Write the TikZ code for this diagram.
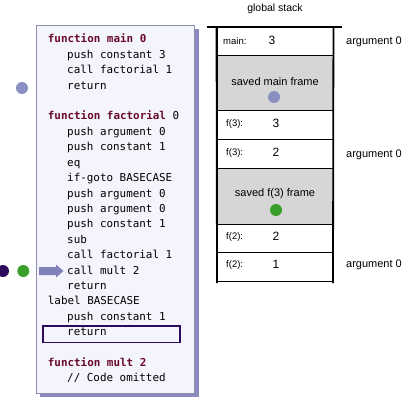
\documentclass[tikz,border=0pt]{standalone}
\usepackage{fontspec}
\setmainfont{Liberation Sans}
\newfontfamily\codefont{DejaVu Sans Mono}
\definecolor{kwred}{HTML}{6A0A2A}
\definecolor{boxfill}{HTML}{F4F4FC}
\definecolor{boxline}{HTML}{8E8EAE}
\definecolor{shadowc}{HTML}{8A8ABE}
\definecolor{arrowc}{HTML}{8080B8}
\definecolor{periw}{HTML}{8A8FC2}
\definecolor{darkpurple}{HTML}{2E0A5C}
\definecolor{greendot}{HTML}{3A9E2A}
\definecolor{rowgray}{HTML}{D6D6D6}
\tikzset{
  codeline/.style={anchor=west, inner sep=0pt, font=\codefont\fontsize{10.9}{12}\selectfont, text height=8pt, text depth=2pt},
  kwline/.style={codeline, text=kwred, font=\codefont\bfseries\fontsize{10.9}{12}\selectfont},
  stackrow/.style={draw=black, line width=0.9pt, minimum width=116pt, inner sep=0pt},
  smalllab/.style={anchor=west, inner sep=0pt, font=\fontsize{9.5}{11}\selectfont},
  numlab/.style={inner sep=0pt, font=\fontsize{12}{14}\selectfont},
  arglab/.style={anchor=west, inner sep=0pt, font=\fontsize{11}{13}\selectfont},
  framelab/.style={inner sep=0pt, font=\fontsize{11}{13}\selectfont},
  dotc/.style={circle, inner sep=0pt, minimum size=12pt}
}
\begin{document}
\begin{tikzpicture}[x=1pt,y=-1pt]
\useasboundingbox (0,0) rectangle (407,409);
% code box with shadow
\fill[shadowc] (40,29) rectangle (199,397);
\node[draw=boxline, fill=boxfill, line width=0.8pt, minimum width=158pt, minimum height=368pt, inner sep=0pt, anchor=north west] (codebox) at (36,25) {};
% code lines
\node[kwline] (l1) at (47.7,40) {function main 0};
\node[codeline] (l2) at (67,55.4) {push constant 3};
\node[codeline] (l3) at (67,70.8) {call factorial 1};
\node[codeline] (l4) at (67,86.2) {return};
\node[codeline] (l5) at (47.7,117) {\textcolor{kwred}{\bfseries function factorial} 0};
\node[codeline] (l6) at (67,132.4) {push argument 0};
\node[codeline] (l7) at (67,147.8) {push constant 1};
\node[codeline] (l8) at (67,163.2) {eq};
\node[codeline] (l9) at (67,178.6) {if-goto BASECASE};
\node[codeline] (l10) at (67,194) {push argument 0};
\node[codeline] (l11) at (67,209.4) {push argument 0};
\node[codeline] (l12) at (67,224.8) {push constant 1};
\node[codeline] (l13) at (67,240.2) {sub};
\node[codeline] (l14) at (67,255.6) {call factorial 1};
\node[codeline] (l15) at (67,271) {call mult 2};
\node[codeline] (l16) at (67,286.4) {return};
\node[codeline] (l17) at (47.7,301.8) {label BASECASE};
\node[codeline] (l18) at (67,317.2) {push constant 1};
\node[codeline] (l19) at (67,332.6) {return};
\node[kwline] (l20) at (47.7,363.4) {function mult 2};
\node[codeline] (l21) at (67,378.8) {// Code omitted};
% highlight box
\node[draw=darkpurple, line width=1.5pt, minimum width=137pt, minimum height=16.5pt, inner sep=0pt, anchor=north west] (hl) at (42,325) {};
% arrow
\fill[arrowc] (39,267) -- (56,267) -- (56,264.5) -- (63.5,271) -- (56,277.5) -- (56,275) -- (39,275) -- cycle;
% dots
\node[dotc, fill=periw] (dmain) at (22,88) {};
\node[dotc, fill=darkpurple] (dpurple) at (3,271) {};
\node[dotc, fill=greendot] (dgreen) at (23.3,271) {};
% stack
\node[font=\fontsize{10.5}{12}\selectfont, inner sep=0pt] (gs) at (275,9) {global stack};
\node[stackrow, minimum height=28pt, anchor=north] (r1) at (275,27) {};
\node[stackrow, fill=rowgray, minimum height=55pt, anchor=north] (r2) at (275,55) {};
\node[stackrow, minimum height=29pt, anchor=north] (r3) at (275,110) {};
\node[stackrow, minimum height=29pt, anchor=north] (r4) at (275,139) {};
\node[stackrow, fill=rowgray, minimum height=56pt, anchor=north] (r5) at (275,168) {};
\node[stackrow, minimum height=28pt, anchor=north] (r6) at (275,224) {};
\node[stackrow, minimum height=29pt, anchor=north] (r7) at (275,252) {};
\coordinate (tl) at (207,27);
\coordinate (tr) at (342,27);
\coordinate (vlb) at (217,283);
\coordinate (vrb) at (333,283);
\draw[line width=2pt] (tl) -- (tr);
\draw[line width=1.8pt] (r1.north west) -- (vlb);
\draw[line width=1.8pt] (r1.north east) -- (vrb);
% stack labels
\node[smalllab] (m1) at (223,41) {main:};
\node[numlab] (m2) at (272,40.5) {3};
\node[arglab] (a1) at (346,42) {argument 0};
\node[framelab] (sf1) at (275,82) {saved main frame};
\node[dotc, fill=periw] (sd1) at (274,97) {};
\node[smalllab] (f1) at (226,124) {f(3):};
\node[numlab] (f1v) at (276,123.5) {3};
\node[smalllab] (f2) at (226,153) {f(3):};
\node[numlab] (f2v) at (276,152.5) {2};
\node[arglab] (a2) at (346,154.5) {argument 0};
\node[framelab] (sf2) at (275,194) {saved f(3) frame};
\node[dotc, fill=greendot] (sd2) at (276,210) {};
\node[smalllab] (f3) at (226,237) {f(2):};
\node[numlab] (f3v) at (276,236.5) {2};
\node[smalllab] (f4) at (226,265) {f(2):};
\node[numlab] (f4v) at (276,264.5) {1};
\node[arglab] (a3) at (346,265) {argument 0};
\end{tikzpicture}
\end{document}
